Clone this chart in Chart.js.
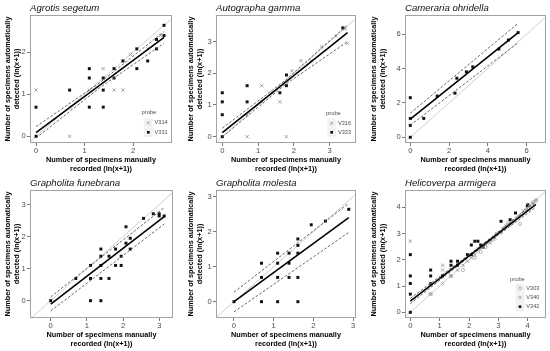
<!DOCTYPE html>
<html><head><meta charset="utf-8">
<script src="https://cdn.jsdelivr.net/npm/chart.js@4.4.1/dist/chart.umd.min.js"></script>
<style>
html,body{margin:0;padding:0;background:#fff;}
#wrap{position:relative;width:550px;height:351px;overflow:hidden;background:#fff;}
.panel{position:absolute;}
canvas{display:block;}
</style></head><body><div id="wrap"></div>
<script>
// ---------- DATA ----------
const panelTitles = ["Agrotis segetum","Autographa gamma","Cameraria ohridella","Grapholita funebrana","Grapholita molesta","Helicoverpa armigera"];
const xTitleLines = ["Number of specimens manually","recorded (ln(x+1))"];
const yTitleLines = ["Number of specimens automatically","detected (ln(x+1))"];
const legendTitle = "probe";

// Agrotis segetum
const agrotisV314 = [[0,1.099],[0.693,0],[0.693,0.693],[1.099,1.099],[1.386,1.609],[1.609,1.099],[1.792,1.099],[1.946,1.946],[2.303,2.079],[2.565,2.398]];
const agrotisV331 = [[0,0],[0,0.693],[0.693,1.099],[1.099,1.609],[1.099,1.386],[1.099,0.693],[1.386,1.386],[1.386,1.099],[1.386,0.693],[1.609,1.609],[1.609,1.386],[1.792,1.792],[2.079,2.079],[2.079,1.609],[2.303,1.792],[2.485,2.079],[2.485,2.303],[2.639,2.639],[2.639,2.398]];
const agrotisFit = [[0,0.09],[2.64,2.35]];
const agrotisUpper = [[0,0.23],[1.32,1.28],[2.64,2.49]];
const agrotisLower = [[0,-0.04],[1.32,1.16],[2.64,2.21]];
const agrotisXRange = [-0.124,2.804], agrotisYRange = [-0.159,2.884];
const agrotisXTicks = [0,1,2], agrotisYTicks = [0,1,2];

// Autographa gamma
const autographaV316 = [[0.693,0],[0.693,0.693],[1.099,1.609],[1.099,1.099],[1.386,1.386],[1.609,1.099],[1.792,0],[1.946,2.079],[2.197,2.398],[2.485,2.398],[2.773,2.833],[3.178,3.178],[3.434,3.401],[3.497,2.944]];
const autographaV333 = [[0,0],[0,0.693],[0,1.099],[0,1.386],[0.693,1.609],[0.693,1.099],[1.609,1.386],[1.792,1.946],[1.792,1.609],[3.367,3.434]];
const autographaFit = [[0,0.13],[3.5,3.28]];
const autographaUpper = [[0,0.27],[1.75,1.77],[3.5,3.53]];
const autographaLower = [[0,-0.01],[1.75,1.64],[3.5,3.0]];
const autographaXRange = [-0.176,3.735], autographaYRange = [-0.199,3.839];
const autographaXTicks = [0,1,2,3], autographaYTicks = [0,1,2,3];

// Cameraria ohridella
const camerariaPts = [[0,0],[0,0.693],[0,1.099],[0,2.303],[0.693,1.099],[1.386,2.398],[2.303,2.565],[2.398,3.434],[2.890,3.807],[3.219,4.094],[4.564,5.130],[5.056,5.652],[5.557,6.087]];
const camerariaFit = [[0,1.06],[5.56,6.08]];
const camerariaUpper = [[0,1.40],[5.56,6.63]];
const camerariaLower = [[0,0.70],[5.56,5.50]];
const camerariaXRange = [-0.273,6.995], camerariaYRange = [-0.331,7.11];
const camerariaXTicks = [0,2,4,6], camerariaYTicks = [0,2,4,6];

// Grapholita funebrana
const funebranaPts = [[0,0],[0.693,0.693],[1.099,0],[1.099,0.693],[1.099,1.099],[1.386,1.609],[1.386,1.386],[1.386,1.099],[1.386,0.693],[1.386,0],[1.609,1.386],[1.609,0.693],[1.792,1.609],[1.792,1.099],[1.946,1.386],[1.946,1.099],[2.079,2.303],[2.079,1.792],[2.197,1.946],[2.197,1.609],[2.565,2.565],[2.833,2.708],[2.996,2.708],[2.996,2.639],[3.135,2.639]];
const funebranaFit = [[0,-0.11],[3.135,2.62]];
const funebranaUpper = [[0,0.12],[3.135,2.90]];
const funebranaLower = [[0,-0.32],[3.135,2.39]];
const funebranaXRange = [-0.572,3.378], funebranaYRange = [-0.539,3.449];
const funebranaXTicks = [0,1,2,3], funebranaYTicks = [0,1,2,3];

// Grapholita molesta
const molestaPts = [[0,0],[0.693,0],[0.693,0.693],[0.693,1.099],[1.099,0],[1.099,0.693],[1.099,1.099],[1.099,1.386],[1.386,1.099],[1.386,0.693],[1.386,1.386],[1.609,0],[1.609,0.693],[1.609,1.386],[1.609,1.609],[1.609,1.792],[1.946,2.197],[2.303,2.303],[2.890,2.639]];
const molestaFit = [[0,0],[2.89,2.40]];
const molestaUpper = [[0,0.27],[2.89,2.81]];
const molestaLower = [[0,-0.29],[2.89,1.98]];
const molestaXRange = [-0.453,3.073], molestaYRange = [-0.466,3.191];
const molestaXTicks = [0,1,2,3], molestaYTicks = [0,1,2,3];

// Helicoverpa armigera
const helicoverpaV303 = [[0.693,0.693],[1.386,1.386],[1.792,1.609],[2.197,2.079],[2.398,2.303],[2.565,2.485],[2.708,2.708],[2.833,2.773],[2.944,2.996],[3.091,3.045],[3.219,3.219],[3.332,3.401],[3.466,3.434],[3.738,3.367],[3.807,3.738],[3.951,3.932],[4.094,4.007],[4.190,4.205],[4.290,4.25]];
const helicoverpaV340 = [[0,2.708],[0.693,0.693],[0.693,1.099],[1.099,1.792],[1.099,1.099],[1.099,1.609],[1.386,1.386],[1.609,1.609],[1.792,1.792],[1.946,1.946],[2.079,2.079],[2.197,2.197],[2.303,2.398],[2.485,2.485],[2.565,2.565],[2.708,2.639],[2.890,2.833],[3.045,3.045],[3.178,3.178],[3.258,3.296],[3.367,3.332],[3.526,3.497],[3.689,3.664],[3.850,3.871],[4.043,4.060],[4.159,4.159],[4.277,4.277]];
const helicoverpaV342 = [[0,0],[0,0.693],[0,1.099],[0,1.386],[0,2.197],[0.693,1.099],[0.693,1.386],[0.693,1.609],[1.099,1.386],[1.386,1.792],[1.386,1.946],[1.609,1.792],[1.609,1.946],[1.946,2.197],[2.079,2.197],[2.079,2.565],[2.197,2.708],[2.303,2.708],[2.398,2.565],[2.485,2.485],[3.091,3.466],[3.401,3.526],[3.584,3.784],[3.989,4.060],[4.007,4.094]];
const helicoverpaFit = [[0,0.43],[4.28,4.11]];
const helicoverpaUpper = [[0,0.53],[2.14,2.31],[4.28,4.21]];
const helicoverpaLower = [[0,0.33],[2.14,2.23],[4.28,4.01]];
const helicoverpaXRange = [-0.181,4.623], helicoverpaYRange = [-0.217,4.659];
const helicoverpaXTicks = [0,1,2,3,4], helicoverpaYTicks = [0,1,2,3,4];

// ---------- STYLES ----------
const FONT = '"Liberation Sans", Arial, Helvetica, sans-serif';
const STY = {
  cross:  {pointStyle:'crossRot', pointRadius:2.3, borderColor:'#8c8c8c', backgroundColor:'#8c8c8c', borderWidth:0.8},
  square: {pointStyle:'rect', pointRadius:2.1, borderColor:'#111', backgroundColor:'#111', borderWidth:0},
  circle: {pointStyle:'circle', pointRadius:1.6, borderColor:'#9a9a9a', backgroundColor:'rgba(0,0,0,0)', borderWidth:0.7}
};

const panels = [
  {title:panelTitles[0], left:0, top:0, w:183, h:175, plot:{l:30,r:172,t:15,b:143},
   series:[{label:'V314', data:agrotisV314, sty:'cross'},{label:'V331', data:agrotisV331, sty:'square'}],
   fit:agrotisFit, upper:agrotisUpper, lower:agrotisLower, xr:agrotisXRange, yr:agrotisYRange, xt:agrotisXTicks, yt:agrotisYTicks,
   legend:{keyX:148.3, titleX:141.5, titleY:112, rowY:[122.8,132.3]}},
  {title:panelTitles[1], left:183, top:0, w:183, h:175, plot:{l:33,r:173,t:15,b:143},
   series:[{label:'V316', data:autographaV316, sty:'cross'},{label:'V333', data:autographaV333, sty:'square'}],
   fit:autographaFit, upper:autographaUpper, lower:autographaLower, xr:autographaXRange, yr:autographaYRange, xt:autographaXTicks, yt:autographaYTicks,
   legend:{keyX:148.7, titleX:143, titleY:113.5, rowY:[123.3,132.3]}},
  {title:panelTitles[2], left:366, top:0, w:184, h:175, plot:{l:39,r:180,t:15,b:143},
   series:[{label:'', data:camerariaPts, sty:'square'}],
   fit:camerariaFit, upper:camerariaUpper, lower:camerariaLower, xr:camerariaXRange, yr:camerariaYRange, xt:camerariaXTicks, yt:camerariaYTicks},
  {title:panelTitles[3], left:0, top:175, w:183, h:176, plot:{l:30,r:173,t:15,b:143},
   series:[{label:'', data:funebranaPts, sty:'square'}],
   fit:funebranaFit, upper:funebranaUpper, lower:funebranaLower, xr:funebranaXRange, yr:funebranaYRange, xt:funebranaXTicks, yt:funebranaYTicks},
  {title:panelTitles[4], left:183, top:175, w:183, h:176, plot:{l:33,r:173,t:15,b:143},
   series:[{label:'', data:molestaPts, sty:'square'}],
   fit:molestaFit, upper:molestaUpper, lower:molestaLower, xr:molestaXRange, yr:molestaYRange, xt:molestaXTicks, yt:molestaYTicks},
  {title:panelTitles[5], left:366, top:175, w:184, h:176, plot:{l:39,r:180,t:15,b:143},
   series:[{label:'V303', data:helicoverpaV303, sty:'circle'},{label:'V340', data:helicoverpaV340, sty:'cross'},{label:'V342', data:helicoverpaV342, sty:'square'}],
   fit:helicoverpaFit, upper:helicoverpaUpper, lower:helicoverpaLower, xr:helicoverpaXRange, yr:helicoverpaYRange, xt:helicoverpaXTicks, yt:helicoverpaYTicks,
   legend:{keyX:154, titleX:144, titleY:104, rowY:[113.3,122.5,131.7]}}
];

const toXY = a => a.map(([x,y]) => ({x, y}));

const decor = {
  id:'decor',
  afterDraw(chart) {
    const p = chart.config.options.plugins.decor.panel;
    const {ctx, chartArea:a} = chart;
    ctx.save();
    // panel border
    ctx.strokeStyle = '#a3a3a3'; ctx.lineWidth = 1;
    ctx.strokeRect(Math.round(a.left)+0.5, Math.round(a.top)+0.5, Math.round(a.right-a.left)-1, Math.round(a.bottom-a.top)-1);
    // title
    ctx.fillStyle = '#111';
    ctx.font = 'italic 9.6px ' + FONT;
    ctx.textBaseline = 'alphabetic'; ctx.textAlign = 'left';
    ctx.fillText(p.title, a.left, 10.6);
    // legend
    if (p.legend) {
      const L = p.legend;
      ctx.fillStyle = '#4d4d4d';
      ctx.font = '5.8px ' + FONT;
      ctx.textBaseline = 'middle';
      ctx.fillText(legendTitle, L.titleX, L.titleY);
      p.series.forEach((s, i) => {
        const y = L.rowY[i];
        ctx.fillStyle = '#f2f2f2';
        ctx.fillRect(L.keyX - 4.5, y - 4.6, 9, 9.2);
        const st = STY[s.sty];
        ctx.strokeStyle = st.borderColor; ctx.fillStyle = st.backgroundColor; ctx.lineWidth = st.borderWidth;
        Chart.helpers.drawPoint(ctx, {pointStyle: st.pointStyle, radius: st.pointRadius*0.9, rotation:0, borderWidth: st.borderWidth}, L.keyX, y);
        ctx.fillStyle = '#4d4d4d';
        ctx.font = '5.6px ' + FONT;
        ctx.fillText(s.label, L.keyX + 6.3, y);
      });
    }
    ctx.restore();
  }
};

const wrap = document.getElementById('wrap');
panels.forEach(p => {
  const div = document.createElement('div');
  div.className = 'panel';
  Object.assign(div.style, {left:p.left+'px', top:p.top+'px', width:p.w+'px', height:p.h+'px'});
  const cv = document.createElement('canvas');
  cv.width = p.w; cv.height = p.h;
  cv.style.width = p.w+'px'; cv.style.height = p.h+'px';
  div.appendChild(cv); wrap.appendChild(div);

  const lo = Math.min(p.xr[0], p.yr[0]), hi = Math.max(p.xr[1], p.yr[1]);
  const datasets = [];
  datasets.push({label:'identity', data: toXY([[lo,lo],[hi,hi]]), showLine:true, pointRadius:0, borderColor:'#c9c9c9', borderWidth:0.9, order:10});
  p.series.forEach(s => {
    const st = STY[s.sty];
    datasets.push(Object.assign({label:s.label, data: toXY(s.data), showLine:false, order:5, pointHoverRadius:st.pointRadius}, st));
  });
  [p.upper, p.lower].forEach(d => datasets.push({label:'band', data: toXY(d), showLine:true, pointRadius:0, borderColor:'#555', borderWidth:0.9, borderDash:[2.6,1.8], order:2}));
  datasets.push({label:'fit', data: toXY(p.fit), showLine:true, pointRadius:0, borderColor:'#000', borderWidth:1.6, order:1});

  const tickFont = {family:FONT, size:7.6};
  const titleFont = {family:FONT, size:7.3, weight:'bold', lineHeight:1.25};
  new Chart(cv, {
    type:'scatter',
    data:{datasets},
    options:{
      responsive:false, animation:false, events:[],
      layout:{padding:{left:0, top:p.plot.t, right:p.w - p.plot.r, bottom:0}},
      plugins:{legend:{display:false}, tooltip:{enabled:false}, decor:{panel:p}},
      scales:{
        x:{type:'linear', min:p.xr[0], max:p.xr[1],
           afterBuildTicks: s => { s.ticks = p.xt.map(v => ({value:v})); },
           afterFit: s => { s.height = p.h - p.plot.b; },
           grid:{display:true, drawOnChartArea:false, drawTicks:true, tickLength:3, color:'#555', lineWidth:0.8},
           border:{display:false},
           ticks:{color:'#4d4d4d', font:tickFont, padding:0.5, maxRotation:0, autoSkip:false, callback:v => String(v)},
           title:{display:true, text:xTitleLines, color:'#000', font:titleFont, padding:{top:0, bottom:p.h === 175 ? 1.5 : 2.3}}},
        y:{type:'linear', min:p.yr[0], max:p.yr[1],
           afterBuildTicks: s => { s.ticks = p.yt.map(v => ({value:v})); },
           afterFit: s => { s.width = p.plot.l; },
           grid:{display:true, drawOnChartArea:false, drawTicks:true, tickLength:3, color:'#555', lineWidth:0.8},
           border:{display:false},
           ticks:{color:'#4d4d4d', font:tickFont, padding:1.2, autoSkip:false, callback:v => String(v)},
           title:{display:true, text:yTitleLines, color:'#000', font:titleFont, padding:{top:3.5, bottom:0}}}
      }
    },
    plugins:[decor]
  });
});
</script></body></html>
